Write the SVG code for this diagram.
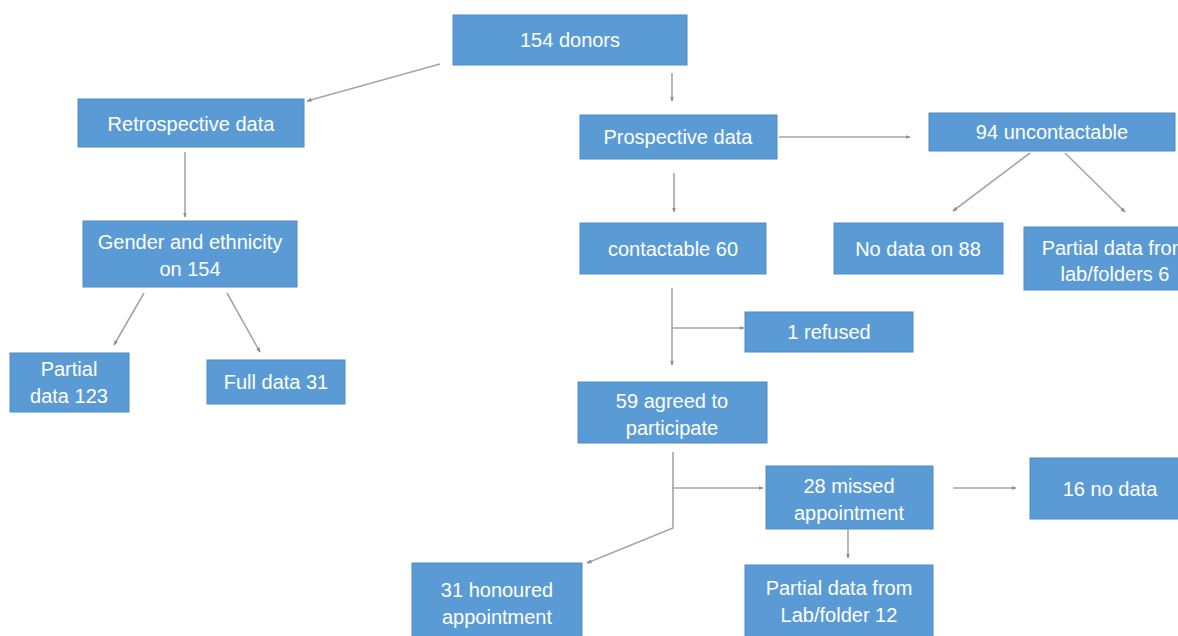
<svg xmlns="http://www.w3.org/2000/svg" width="1178" height="636" viewBox="0 0 1178 636">
<defs>
<marker id="ah" viewBox="0 0 10 10" refX="9" refY="5" markerWidth="5" markerHeight="5" orient="auto" markerUnits="userSpaceOnUse">
<path d="M0,1 L10,5 L0,9 Z" fill="#8c8c8c"/>
</marker>
<style>
.box{fill:#5b9bd5;stroke:#4f8cc4;stroke-width:1}
.t{font-family:"Liberation Sans",Arial,sans-serif;font-size:20px;fill:#ffffff;text-anchor:middle}
.c{fill:none;stroke:#a6a6a6;stroke-width:1.6;marker-end:url(#ah)}
</style>
</defs>
<rect width="1178" height="636" fill="#ffffff"/>
<g id="connectors">
<line class="c" x1="440" y1="64" x2="307" y2="101"/>
<line class="c" x1="672" y1="73" x2="672" y2="101"/>
<line class="c" x1="779" y1="137" x2="910" y2="137"/>
<line class="c" x1="674" y1="173" x2="674" y2="212"/>
<line class="c" x1="1030" y1="153" x2="953" y2="211"/>
<line class="c" x1="1065" y1="153" x2="1125" y2="212"/>
<line class="c" x1="672" y1="288" x2="672" y2="365"/>
<line class="c" x1="672" y1="328" x2="744" y2="328"/>
<line class="c" x1="185" y1="152" x2="185" y2="217"/>
<line class="c" x1="144" y1="293" x2="114" y2="345"/>
<line class="c" x1="227" y1="293" x2="260" y2="352"/>
<polyline class="c" points="673,452 673,528 587,563"/>
<line class="c" x1="673" y1="488" x2="763" y2="488"/>
<line class="c" x1="953" y1="488" x2="1016" y2="488"/>
<line class="c" x1="848" y1="529" x2="848" y2="558"/>
</g>
<g id="n-donors"><rect class="box" x="453" y="15" width="234" height="50"/><text class="t" x="570" y="47">154 donors</text></g>
<g id="n-retro"><rect class="box" x="78" y="99" width="226" height="48"/><text class="t" x="191" y="131">Retrospective data</text></g>
<g id="n-prosp"><rect class="box" x="580" y="115" width="197" height="44"/><text class="t" x="678" y="144">Prospective data</text></g>
<g id="n-uncont"><rect class="box" x="929" y="113" width="246" height="38"/><text class="t" x="1052" y="139">94 uncontactable</text></g>
<g id="n-gender"><rect class="box" x="83" y="221" width="214" height="66"/><text class="t" x="190" y="249">Gender and ethnicity</text><text class="t" x="190" y="276">on 154</text></g>
<g id="n-cont"><rect class="box" x="580" y="223" width="186" height="51"/><text class="t" x="673" y="256">contactable 60</text></g>
<g id="n-nodata88"><rect class="box" x="834" y="223" width="169" height="51"/><text class="t" x="918" y="256">No data on 88</text></g>
<g id="n-partial6"><rect class="box" x="1024" y="227" width="200" height="63"/><text class="t" x="1115" y="255">Partial data from</text><text class="t" x="1115" y="281">lab/folders 6</text></g>
<g id="n-refused"><rect class="box" x="745" y="312" width="168" height="40"/><text class="t" x="829" y="339">1 refused</text></g>
<g id="n-partial123"><rect class="box" x="10" y="353" width="119" height="59"/><text class="t" x="69" y="376">Partial</text><text class="t" x="69" y="403">data 123</text></g>
<g id="n-full31"><rect class="box" x="207" y="360" width="138" height="44"/><text class="t" x="276" y="389">Full data 31</text></g>
<g id="n-agreed"><rect class="box" x="578" y="382" width="189" height="61"/><text class="t" x="672" y="408">59 agreed to</text><text class="t" x="672" y="435">participate</text></g>
<g id="n-missed"><rect class="box" x="766" y="466" width="167" height="63"/><text class="t" x="849" y="493">28 missed</text><text class="t" x="849" y="520">appointment</text></g>
<g id="n-nodata16"><rect class="box" x="1030" y="458" width="160" height="61"/><text class="t" x="1110" y="496">16 no data</text></g>
<g id="n-honoured"><rect class="box" x="412" y="563" width="170" height="90"/><text class="t" x="497" y="597">31 honoured</text><text class="t" x="497" y="624">appointment</text></g>
<g id="n-partial12"><rect class="box" x="745" y="565" width="188" height="90"/><text class="t" x="839" y="595">Partial data from</text><text class="t" x="839" y="622">Lab/folder 12</text></g>
</svg>
